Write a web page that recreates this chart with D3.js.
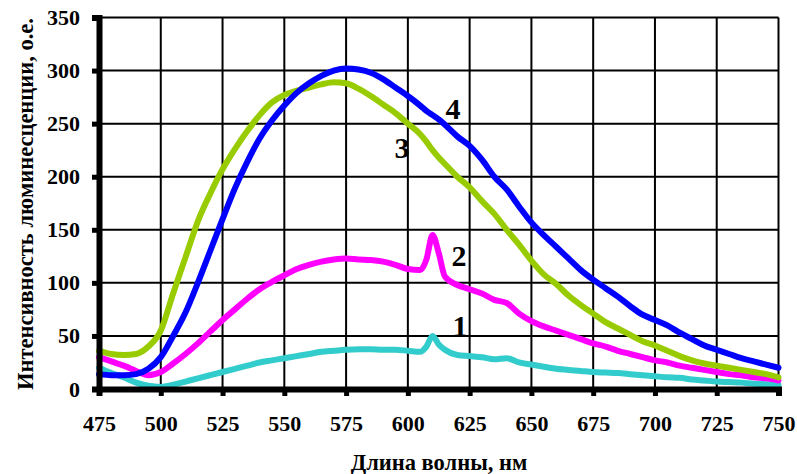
<!DOCTYPE html>
<html><head><meta charset="utf-8">
<script src="https://cdn.jsdelivr.net/npm/d3@7"></script>
<style>body{margin:0;background:#fff}svg{display:block}</style>
</head><body>
<svg id="chart" width="797" height="474"></svg>
<script>
const wavelengths = [475,480,485,490,495,500,505,510,515,520,525,530,535,540,545,550,555,560,565,570,575,580,585,590,595,600,605,607.5,610,612.5,615,620,625,630,635,640,645,650,655,660,665,670,675,680,685,690,695,700,705,710,715,720,725,730,735,740,745,750];
const series1 = [20,15,11,6,3,2,4,7,10,13,16,19,22,25,27,29,31,33,35,36,37,37.5,37.5,37,37,36,35,40,50,42,37,32,31,30,28,29,25,23,21,19,18,17,16,15.5,15,14,13,12,11,10.5,9,8,7,6.5,6,5,4.5,4];
const series2 = [30,26,22,17,13,16,24,33,43,54,65,75,85,94,101,107,113,117,120,122,123,122,121.5,120,117,113,112,122,145,128,106,98,94,90,84,81,71,64,59,55,51,47,43,40,36,33,30,27,25,22,20,18,16,14,13,11,10,8];
const series3 = [36,33,32,33,40,55,90,124,158,184,207,226,243,258,270,277,281,284,287,289,288,283,276,268,260,250,240,233,225,218,212,200,190,177,165,150,136,121,108,99,88,79,71,63,57,51,45,41,36,31,27,24,22,20,18,16,14,11];
const series4 = [14,13,13,14,19,30,50,72,100,130,160,189,214,236,253,267,279,288,295,300,302,301,298,292,284,276,267,262,258,254,249,238,229,216,200,188,172,157,145,134,123,112,103,95,87,78,70,65,60,53,47,41,37,33,29,26,23,20];
const seriesNames = ["1","2","3","4"];
const seriesColors = ["#33CCCC","#FF00FF","#99CC00","#0000FF"];
const xTicks = [475,500,525,550,575,600,625,650,675,700,725,750];
const yTicks = [0,50,100,150,200,250,300,350];
const xTitle = "Длина волны, нм";
const yTitle = "Интенсивность люминесценции, о.е.";

const svg = d3.select("#chart");
const x = d3.scaleLinear().domain([475,750]).range([99,778.5]);
const y = d3.scaleLinear().domain([0,350]).range([389,17.5]);
const font = "'Liberation Serif','Times New Roman',serif";

// grid
svg.append("g").selectAll("line.h").data(yTicks.filter(d=>d>0)).join("line")
  .attr("x1",x(475)).attr("x2",x(750)).attr("y1",d=>y(d)).attr("y2",d=>y(d))
  .attr("stroke","#000").attr("stroke-width",2);
svg.append("g").selectAll("line.v").data(xTicks.filter(d=>d>475)).join("line")
  .attr("y1",y(0)).attr("y2",y(350)).attr("x1",d=>x(d)).attr("x2",d=>x(d))
  .attr("stroke","#000").attr("stroke-width",2);

// series
const all = [series1,series2,series3,series4];
const line = d3.line().x((d,i)=>x(wavelengths[i])).y(d=>y(d)).curve(d3.curveMonotoneX);
all.forEach((s,k)=>{
  svg.append("path").datum(s).attr("d",line).attr("fill","none")
    .attr("stroke",seriesColors[k]).attr("stroke-width",6)
    .attr("stroke-linejoin","round").attr("stroke-linecap","round");
});

// axes
const yAxis = d3.axisLeft(y).tickValues(yTicks).tickSize(7).tickPadding(12);
const gy = svg.append("g").attr("transform",`translate(${x(475)},0)`).call(yAxis);
gy.select(".domain").attr("stroke","#000").attr("stroke-width",6);
gy.selectAll(".tick line").attr("stroke","#000").attr("stroke-width",5);
gy.selectAll(".tick text").attr("font-family",font).attr("font-weight","bold").attr("font-size",22).attr("fill","#000");

const xAxis = d3.axisBottom(x).tickValues(xTicks).tickSize(7).tickPadding(19);
const gx = svg.append("g").attr("transform",`translate(0,${y(0)})`).call(xAxis);
gx.select(".domain").attr("stroke","#000").attr("stroke-width",6);
gx.selectAll(".tick line").attr("stroke","#000").attr("stroke-width",5);
gx.selectAll(".tick text").attr("font-family",font).attr("font-weight","bold").attr("font-size",22).attr("fill","#000");

// series labels
const labelPos = [[460,336],[459,266],[402,158],[453,119]];
svg.append("g").selectAll("text").data(seriesNames).join("text")
  .attr("x",(d,i)=>labelPos[i][0]).attr("y",(d,i)=>labelPos[i][1])
  .attr("text-anchor","middle").attr("font-family",font).attr("font-weight","bold")
  .attr("font-size",30).text(d=>d);

svg.append("text").attr("x",439).attr("y",470).attr("text-anchor","middle")
  .attr("font-family",font).attr("font-weight","bold").attr("font-size",22.5).text(xTitle);
svg.append("text").attr("transform","translate(33,204) rotate(-90)").attr("text-anchor","middle")
  .attr("font-family",font).attr("font-weight","bold").attr("font-size",22.5).text(yTitle);
</script>
</body></html>
